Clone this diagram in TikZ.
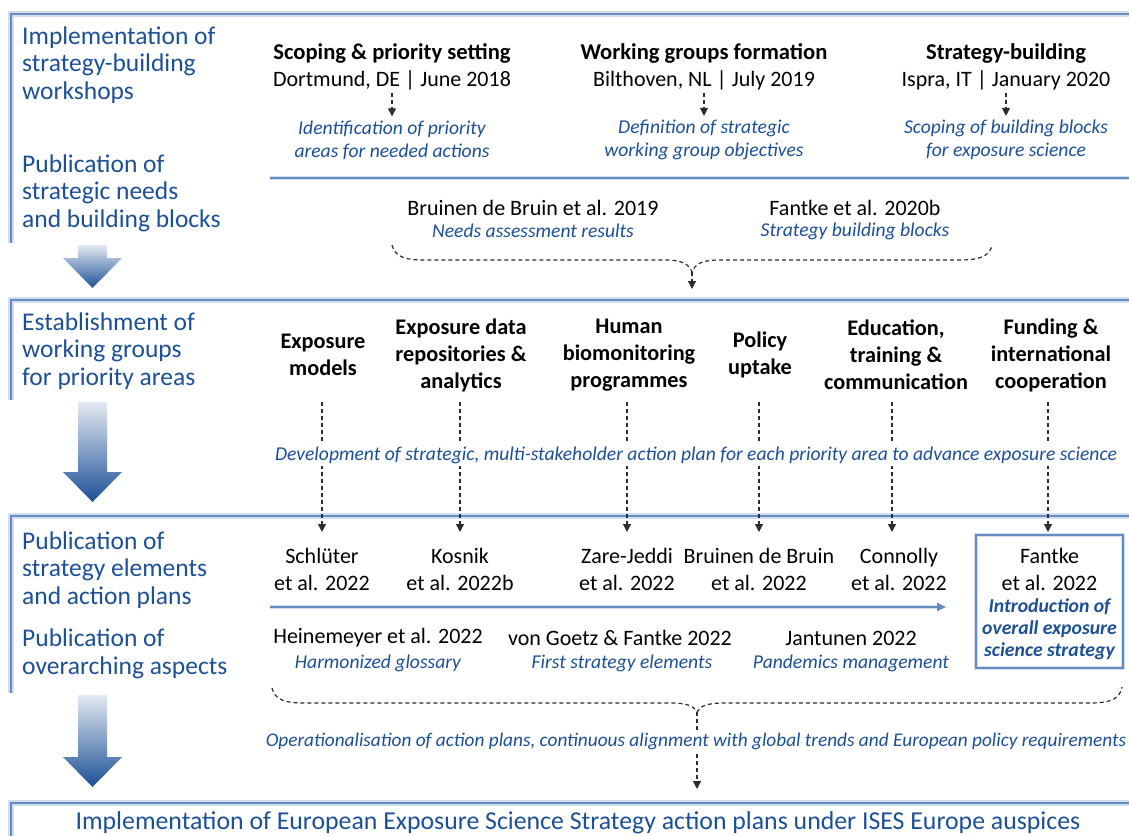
\documentclass[tikz,border=0pt]{standalone}
\usepackage{fontspec}
\setmainfont{Carlito}
\usetikzlibrary{arrows.meta}
\definecolor{tblue}{RGB}{28,80,150}
\definecolor{lblue}{RGB}{100,140,195}
\definecolor{hblue}{RGB}{210,222,238}
\definecolor{dgray}{RGB}{45,45,45}
\begin{document}
\begin{tikzpicture}[x=1pt,y=-1pt,
  halo/.style={draw=hblue,line width=6},
  panel/.style={draw=lblue,line width=2.2},
  stagelbl/.style={anchor=west,align=left,text=tblue,inner sep=0,font=\fontsize{25.5}{27.5}\selectfont},
  head/.style={align=center,inner sep=0,font=\bfseries\fontsize{22.3}{27}\selectfont},
  plain/.style={align=center,inner sep=0,font=\fontsize{22}{27}\selectfont},
  note/.style={align=center,text=tblue,inner sep=0,font=\itshape\fontsize{19.6}{23}\selectfont},
  flow/.style={draw=dgray,line width=1.2,dash pattern=on 4pt off 3pt,-{Triangle[length=8pt,width=8pt]}},
  brace/.style={draw=dgray,line width=1.2,dash pattern=on 4pt off 3pt},
  blockarrow/.style={top color=tblue!12,bottom color=tblue},
  mask/.style={fill=white,inner ysep=3pt,inner xsep=1pt}]
\useasboundingbox (0,0) rectangle (1129,835);

% ---------- panel frames ----------
\foreach \top/\bot in {14/243, 300/400, 516/693, 803/840}{
  \draw[halo] (11,\bot) -- (11,\top) -- (1129,\top);
  \draw[panel] (11,\bot) -- (11,\top) -- (1129,\top);
}
\draw[halo,line width=4] (270,178) -- (1129,178);
\draw[panel,line width=1.8] (270,178) -- (1129,178);

% ---------- block arrows between panels ----------
\shade[blockarrow] (78,245) -- (107,245) -- (107,258) -- (122,258) -- (92.5,288) -- (63,258) -- (78,258) -- cycle;
\shade[blockarrow] (78,402) -- (107,402) -- (107,472) -- (122,472) -- (92.5,502) -- (63,472) -- (78,472) -- cycle;
\shade[blockarrow] (78,695) -- (107,695) -- (107,757) -- (122,757) -- (92.5,787) -- (63,757) -- (78,757) -- cycle;

% ---------- stage labels ----------
\node[stagelbl] (s1) at (22,65) {Implementation of\\strategy-building\\workshops};
\node[stagelbl] (s2) at (22,193) {Publication of\\strategic needs\\and building blocks};
\node[stagelbl] (s3) at (22,351) {Establishment of\\working groups\\for priority areas};
\node[stagelbl] (s4) at (22,570) {Publication of\\strategy elements\\and action plans};
\node[stagelbl] (s5) at (22,654) {Publication of\\overarching aspects};

% ---------- workshops ----------
\node[plain] (w1) at (392,67) {\textbf{\fontsize{22.6}{27}\selectfont Scoping \& priority setting}\\Dortmund, DE | June 2018};
\node[plain] (w2) at (704,67) {\textbf{\fontsize{22.6}{27}\selectfont Working groups formation}\\Bilthoven, NL | July 2019};
\node[plain] (w3) at (1006,67) {\textbf{\fontsize{22.6}{27}\selectfont Strategy-building}\\Ispra, IT | January 2020};
\node[note] (d1) at (392,140) {Identification of priority\\areas for needed actions};
\node[note] (d2) at (704,140) {Definition of strategic\\working group objectives};
\node[note] (d3) at (1006,140) {Scoping of building blocks\\for exposure science};
\foreach \i in {1,2,3}{
  \draw[flow,shorten <=3pt,shorten >=4pt] (w\i) -- (d\i);
}

% ---------- strategic needs publications ----------
\node[plain] (b1) at (533,208) {Bruinen de Bruin et al. 2019};
\node[note] (n1) at (533,231) {Needs assessment results};
\node[plain] (b2) at (855,208) {Fantke et al. 2020b};
\node[note] (n2) at (855,231) {Strategy building blocks};
\coordinate (bl) at (392,245);
\coordinate (br) at (992,245);
\coordinate (bm) at (692,272);
\coordinate (bt) at (692,289);
\draw[brace] (bl) .. controls (395,257) and (405,260) .. (425,260) -- (665,260)
  .. controls (682,260) and (689,264) .. (bm)
  .. controls (695,264) and (702,260) .. (719,260) -- (960,260)
  .. controls (980,260) and (990,256) .. (br);
\draw[flow] (bm) -- (bt);

% ---------- working groups ----------
\node[head] (g1) at (323,355) {Exposure\\models};
\node[head] (g2) at (461,355) {Exposure data\\repositories \&\\analytics};
\node[head] (g3) at (629,355) {Human\\biomonitoring\\programmes};
\node[head] (g4) at (760,355) {Policy\\uptake};
\node[head] (g5) at (896,355) {Education,\\training \&\\communication};
\node[head] (g6) at (1051,355) {Funding \&\\international\\cooperation};

% ---------- action plans ----------
\node[plain] (p1) at (322,569) {Schlüter\\et al. 2022};
\node[plain] (p2) at (460,569) {Kosnik\\et al. 2022b};
\node[plain] (p3) at (627,569) {Zare-Jeddi\\et al. 2022};
\node[plain] (p4) at (759,569) {Bruinen de Bruin\\et al. 2022};
\node[plain] (p5) at (899,569) {Connolly\\et al. 2022};
\node[draw=hblue,line width=3.5,minimum width=147,minimum height=133] at (1049.5,601.5) {};
\node[draw=lblue,line width=1.6,minimum width=147,minimum height=133] (p6) at (1049.5,601.5) {};
\node[plain] (p6t) at (1049.5,569) {Fantke\\et al. 2022};
\node[note,font=\bfseries\itshape\fontsize{19.7}{22}\selectfont] (p6d) at (1049.5,629) {Introduction of\\overall exposure\\science strategy};

\foreach \x in {322,460,627,759,892,1048}{
  \draw[flow] (\x,402) -- (\x,532);
}
\node[note,mask] (dev) at (696,455) {Development of strategic, multi-stakeholder action plan for each priority area to advance exposure science};

% timeline within the publication panel
\coordinate (ta) at (270,607);
\coordinate (tb) at (946,607);
\draw[draw=hblue,line width=4] (ta) -- (940,607);
\draw[draw=lblue,line width=1.8,-{Triangle[length=9pt,width=8pt]}] (ta) -- (tb);

% ---------- overarching aspects ----------
\node[plain] (o1) at (378,638) {Heinemeyer et al. 2022};
\node[note] (m1) at (378,663) {Harmonized glossary};
\node[plain] (o2) at (620,638) {von Goetz \& Fantke 2022};
\node[note] (m2) at (622,663) {First strategy elements};
\node[plain] (o3) at (851,638) {Jantunen 2022};
\node[note] (m3) at (851,663) {Pandemics management};

\coordinate (cl) at (272,688);
\coordinate (cr) at (1122,687);
\coordinate (cm) at (697,712);
\coordinate (ct) at (697,789);
\draw[brace] (cl) .. controls (275,700) and (285,703) .. (305,703) -- (670,703)
  .. controls (687,703) and (694,706) .. (cm)
  .. controls (700,706) and (707,703) .. (724,703) -- (1090,703)
  .. controls (1112,703) and (1120,698) .. (cr);
\draw[flow] (cm) -- (ct);
\node[note,mask,font=\itshape\fontsize{19.3}{23}\selectfont] (op) at (696,741) {Operationalisation of action plans, continuous alignment with global trends and European policy requirements};

% ---------- implementation ----------
\node[text=tblue,inner sep=0,font=\fontsize{25.8}{27}\selectfont] (impl) at (578,823) {Implementation of European Exposure Science Strategy action plans under ISES Europe auspices};
\end{tikzpicture}
\end{document}
